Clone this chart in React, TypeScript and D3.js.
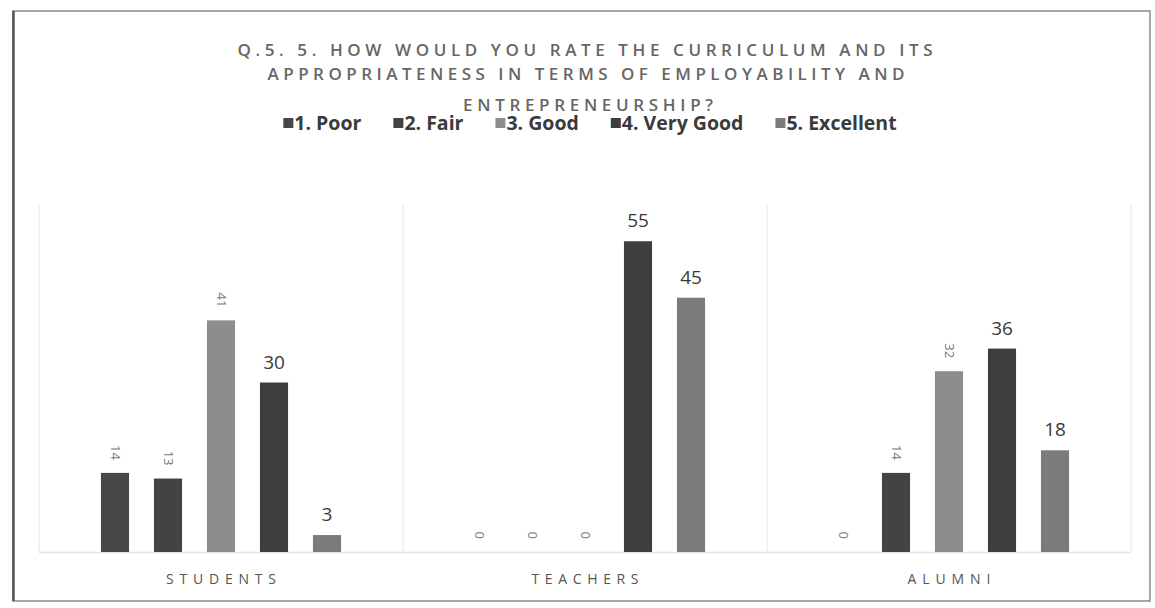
import React, { useEffect, useRef } from "react";
import * as d3 from "d3";

const titleLines = [
  "Q.5. 5. HOW WOULD YOU RATE THE CURRICULUM AND ITS",
  "APPROPRIATENESS IN TERMS OF EMPLOYABILITY AND",
  "ENTREPRENEURSHIP?",
];
const groups = ["STUDENTS", "TEACHERS", "ALUMNI"];
const seriesNames = ["1. Poor", "2. Fair", "3. Good", "4. Very Good", "5. Excellent"];
const seriesColors = ["#474747", "#434343", "#8d8d8d", "#3e3e3e", "#7b7b7b"];
const rotatedLabel = [true, true, true, false, false];
const poor = [14, 0, 0];
const fair = [13, 0, 14];
const good = [41, 0, 32];
const veryGood = [30, 55, 36];
const excellent = [3, 45, 18];
const seriesValues = [poor, fair, good, veryGood, excellent];

const W = 1155;
const H = 608;

export default function App() {
  const ref = useRef<SVGSVGElement>(null);
  useEffect(() => {
    const svg = d3.select(ref.current);
    svg.selectAll("*").remove();
    const font = "'Open Sans', Lato, sans-serif";

    svg.append("rect").attr("width", W).attr("height", H).attr("fill", "#fff");

    // frame
    svg.append("rect")
      .attr("x", 13).attr("y", 11).attr("width", 1137).attr("height", 590)
      .attr("fill", "none").attr("stroke", "#8a8a8a").attr("stroke-width", 1.5);
    svg.append("line").attr("x1", 13.5).attr("x2", 13.5).attr("y1", 11).attr("y2", 601)
      .attr("stroke", "#555").attr("stroke-width", 2.5);

    const x0 = d3.scaleBand<string>().domain(groups).range([39, 1131]);
    const x1 = d3.scaleBand<string>().domain(seriesNames).range([-132.5, 132.5])
      .paddingInner(0.47).paddingOuter(0.235);
    const y = d3.scaleLinear().domain([0, 60]).range([552, 213]);

    // panel separators
    const bounds = groups.map((g) => x0(g)!).concat([x0.range()[1]]);
    svg.append("g").selectAll("line").data(bounds).join("line")
      .attr("x1", (d) => d).attr("x2", (d) => d)
      .attr("y1", y(60) - 8).attr("y2", y(0))
      .attr("stroke", "#e6e6e6").attr("stroke-width", 1);
    svg.append("line")
      .attr("x1", x0.range()[0]).attr("x2", x0.range()[1])
      .attr("y1", y(0) + 0.5).attr("y2", y(0) + 0.5)
      .attr("stroke", "#e2e2e2").attr("stroke-width", 1.5);

    // bars
    const bars = svg.append("g");
    seriesNames.forEach((s, si) => {
      groups.forEach((g, gi) => {
        const v = seriesValues[si][gi];
        const cx = x0(g)! + x0.bandwidth() / 2 + x1(s)!;
        if (v > 0) {
          bars.append("rect")
            .attr("x", cx).attr("y", y(v))
            .attr("width", x1.bandwidth()).attr("height", y(0) - y(v))
            .attr("fill", seriesColors[si]);
        }
        const mx = cx + x1.bandwidth() / 2;
        if (rotatedLabel[si]) {
          bars.append("text")
            .attr("transform", `translate(${mx - 4},${y(v) - 13}) rotate(90)`)
            .attr("text-anchor", "end")
            .attr("font-family", font).attr("font-size", 13)
            .attr("fill", "#777")
            .text(String(v));
        } else {
          bars.append("text")
            .attr("x", mx).attr("y", y(v) - 14)
            .attr("text-anchor", "middle")
            .attr("font-family", font).attr("font-size", 19)
            .attr("fill", "#3a3a3a")
            .text(String(v));
        }
      });
    });

    // category labels
    const catLen = [110, 107, 83];
    svg.append("g").selectAll("text").data(groups).join("text")
      .attr("x", (d) => x0(d)! + x0.bandwidth() / 2)
      .attr("y", 584)
      .attr("text-anchor", "middle")
      .attr("font-family", font).attr("font-size", 14)
      .attr("fill", "#555")
      .attr("textLength", (d, i) => catLen[i]).attr("lengthAdjust", "spacing")
      .text((d) => d);

    // title
    const titleY = [56, 80, 111];
    const titleLen = [695, 637, 250];
    const titleX = [585, 586, 588];
    titleLines.forEach((t, i) => {
      svg.append("text")
        .attr("x", titleX[i]).attr("y", titleY[i])
        .attr("text-anchor", "middle")
        .attr("font-family", font).attr("font-size", 17).attr("font-weight", 600)
        .attr("fill", "#666")
        .attr("textLength", titleLen[i]).attr("lengthAdjust", "spacing")
        .text(t);
    });

    // legend
    const lg = svg.append("g");
    const items: { g: any; w: number }[] = [];
    seriesNames.forEach((s, i) => {
      const g = lg.append("g");
      g.append("rect").attr("x", 0).attr("y", -12).attr("width", 10).attr("height", 10)
        .attr("fill", seriesColors[i]);
      const t = g.append("text").attr("x", 11).attr("y", 0)
        .attr("font-family", font).attr("font-size", 19.5).attr("font-weight", "bold")
        .attr("fill", "#3a3a3a").text(s);
      const tw = (t.node() as SVGTextElement).getComputedTextLength();
      items.push({ g, w: 11 + tw });
    });
    const gap = 32;
    const total = d3.sum(items, (d) => d.w) + gap * (items.length - 1);
    let cx = 590 - total / 2;
    items.forEach((it) => {
      it.g.attr("transform", `translate(${cx},130)`);
      cx += it.w + gap;
    });
  }, []);

  return (
    <svg
      ref={ref}
      width={W}
      height={H}
      style={{ position: "absolute", left: 0, top: 0, display: "block" }}
    />
  );
}
